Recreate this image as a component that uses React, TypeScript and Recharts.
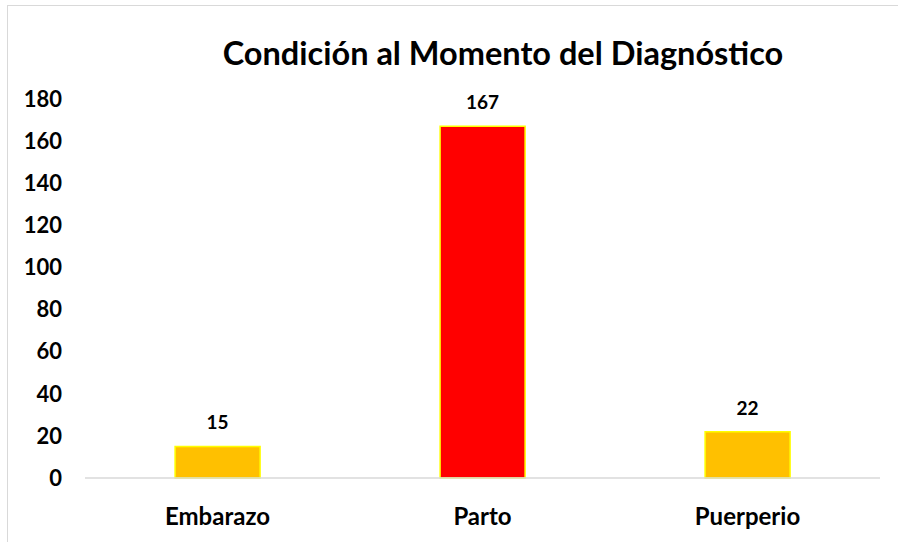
import { Bar, BarChart, Cell, LabelList, XAxis, YAxis } from "recharts";

const CATEGORIES = ["Embarazo", "Parto", "Puerperio"];
const CASES = [15, 167, 22];
const BAR_COLORS = ["#FFC000", "#FF0000", "#FFC000"];
const Y_TICKS = [0, 20, 40, 60, 80, 100, 120, 140, 160, 180];

const FONT = "Lato, 'Open Sans', sans-serif";

export default function App() {
  const chartData = CATEGORIES.map((name, i) => ({ name, value: CASES[i] }));

  return (
    <div
      style={{
        position: "absolute",
        left: 0,
        top: 0,
        width: 898,
        height: 542,
        background: "#fff",
        overflow: "hidden",
        fontFamily: FONT,
      }}
    >
      <div
        style={{
          position: "absolute",
          left: 7,
          top: 5,
          width: 1000,
          height: 700,
          borderLeft: "1.5px solid #d9d9d9",
          borderTop: "1.5px solid #d9d9d9",
        }}
      />
      <div
        style={{
          position: "absolute",
          left: 0,
          width: 1006,
          top: 34,
          textAlign: "center",
          fontSize: 32.5,
          fontWeight: 700,
          color: "#000",
          lineHeight: "38px",
        }}
      >
        Condición al Momento del Diagnóstico
      </div>
      <div style={{ position: "absolute", left: 0, top: 0 }}>
        <BarChart
          width={898}
          height={542}
          data={chartData}
          margin={{ top: 99, right: 18, left: 0, bottom: 34 }}
          barCategoryGap="34%"
        >
          <XAxis
            dataKey="name"
            axisLine={{ stroke: "#d9d9d9", strokeWidth: 1.5 }}
            tickLine={false}
            tickMargin={24}
            tick={{ fill: "#000", fontSize: 24, fontWeight: 700, fontFamily: FONT }}
          />
          <YAxis
            domain={[0, 180]}
            ticks={Y_TICKS}
            width={85}
            axisLine={false}
            tickLine={false}
            tickMargin={17}
            tick={{ fill: "#000", fontSize: 22, fontWeight: 700, fontFamily: FONT }}
          />
          <Bar
            dataKey="value"
            stroke="#FFFF00"
            strokeWidth={1.5}
            isAnimationActive={false}
          >
            {chartData.map((d, i) => (
              <Cell key={d.name} fill={BAR_COLORS[i]} />
            ))}
            <LabelList
              dataKey="value"
              position="top"
              offset={17}
              fill="#000"
              fontSize={19}
              fontWeight={700}
              fontFamily={FONT}
            />
          </Bar>
        </BarChart>
      </div>
    </div>
  );
}
